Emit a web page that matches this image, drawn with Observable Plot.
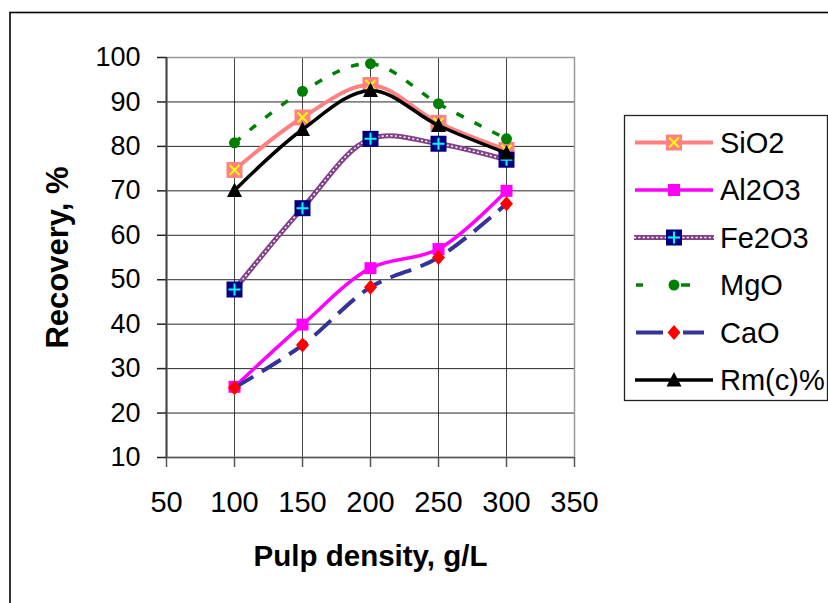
<!DOCTYPE html>
<html><head><meta charset="utf-8">
<script src="https://cdn.jsdelivr.net/npm/d3@7"></script>
<script src="https://cdn.jsdelivr.net/npm/@observablehq/plot@0.6"></script>
<style>
html,body{margin:0;padding:0;background:#fff;}
#chart{position:relative;width:828px;height:603px;overflow:hidden;background:#fff;}
#chart svg{display:block;}
</style></head><body><div id="chart"></div>
<script>
// ---- data ----
const density = [100, 150, 200, 250, 300];
const sio2  = [74.7, 86.5, 93.8, 85.3, 79.2];
const al2o3 = [25.9, 39.9, 52.6, 56.9, 70.0];
const fe2o3 = [47.8, 66.1, 81.7, 80.6, 77.0];
const mgo   = [80.8, 92.4, 98.6, 89.6, 81.7];
const cao   = [25.7, 35.3, 48.3, 55.0, 67.1];
const rmc   = [70.1, 83.8, 92.6, 84.7, 78.5];
const seriesNames = ["SiO2", "Al2O3", "Fe2O3", "MgO", "CaO", "Rm(c)%"];
const xTicks = [50, 100, 150, 200, 250, 300, 350];
const yTicks = [10, 20, 30, 40, 50, 60, 70, 80, 90, 100];
const xLabel = "Pulp density, g/L";
const yLabel = "Recovery, %";

// ---- custom marker symbols ----
const sym = {
  sq16: {draw(c){ c.rect(-8, -8, 16, 16); }},
  sq12: {draw(c){ c.rect(-6, -6, 12, 12); }},
  cross: {draw(c){ c.moveTo(-5, -5); c.lineTo(5, 5); c.moveTo(5, -5); c.lineTo(-5, 5); }},
  plus: {draw(c){ c.moveTo(-6, 0); c.lineTo(6, 0); c.moveTo(0, -6); c.lineTo(0, 6); }},
  circ: {draw(c){ c.moveTo(5.5, 0); c.arc(0, 0, 5.5, 0, 2 * Math.PI); }},
  diam: {draw(c){ c.moveTo(0, -7.5); c.lineTo(6.5, 0); c.lineTo(0, 7.5); c.lineTo(-6.5, 0); c.closePath(); }},
  tri: {draw(c){ c.moveTo(0, -8); c.lineTo(7.5, 6.5); c.lineTo(-7.5, 6.5); c.closePath(); }}
};

const values = [sio2, al2o3, fe2o3, mgo, cao, rmc];
const rows = values.map(v => density.map((x, i) => ({x, y: v[i]})));

const styles = [
  {lines: [{stroke: "#FF8080", strokeWidth: 4}],
   marks: [{symbol: sym.sq16, fill: "#FF8080"}, {symbol: sym.cross, stroke: "#FFFF00", strokeWidth: 2, fill: "none"}]},
  {lines: [{stroke: "#FF00FF", strokeWidth: 3.5}],
   marks: [{symbol: sym.sq12, fill: "#FF00FF"}]},
  {lines: [{stroke: "#83408a", strokeWidth: 5}, {stroke: "#ffffff", strokeWidth: 1.5, strokeDasharray: "2,2.4"}],
   marks: [{symbol: sym.sq16, fill: "#000080"}, {symbol: sym.plus, stroke: "#00FFFF", strokeWidth: 2, fill: "none"}]},
  {lines: [{stroke: "#008000", strokeWidth: 3.5, strokeDasharray: "8,12"}],
   marks: [{symbol: sym.circ, fill: "#008000"}]},
  {lines: [{stroke: "#333399", strokeWidth: 4, strokeDasharray: "22,10"}],
   marks: [{symbol: sym.diam, fill: "#FF0000"}]},
  {lines: [{stroke: "#000000", strokeWidth: 3.5}],
   marks: [{symbol: sym.tri, fill: "#000000"}]}
];

const seriesMarks = [];
rows.forEach((data, k) => {
  styles[k].lines.forEach(ls => seriesMarks.push(Plot.line(data, {x: "x", y: "y", curve: "catmull-rom", strokeLinecap: "butt", strokeLinejoin: "round", ...ls})));
  styles[k].marks.forEach(ms => seriesMarks.push(Plot.dot(data, {x: "x", y: "y", r: 5, ...ms})));
});

const plot = Plot.plot({
  width: 828,
  height: 603,
  marginLeft: 166,
  marginRight: 254,
  marginTop: 57,
  marginBottom: 146,
  style: {fontFamily: "'Liberation Sans', Arial, sans-serif", background: "#fff", overflow: "visible"},
  x: {domain: [50, 350]},
  y: {domain: [10, 100]},
  marks: [
    Plot.gridX(xTicks, {stroke: "#222", strokeOpacity: 0.85, strokeWidth: 1}),
    Plot.gridY(yTicks, {stroke: "#111", strokeOpacity: 0.9, strokeWidth: 1}),
    Plot.frame({stroke: "#999", strokeWidth: 1.5}),
    Plot.axisX(xTicks, {anchor: "bottom", tickSize: 10, tickPadding: 24, fontSize: 29, label: null, stroke: "#555", strokeWidth: 1.5, fill: "#000"}),
    Plot.axisY(yTicks, {anchor: "left", tickSize: 9, tickPadding: 17, fontSize: 27, label: null, stroke: "#222", strokeWidth: 1.5, fill: "#000"}),
    Plot.ruleX([50], {stroke: "#444", strokeWidth: 2}),
    Plot.ruleY([10], {stroke: "#555", strokeWidth: 1.5}),
    ...seriesMarks,
    Plot.text([xLabel], {text: d => d, frameAnchor: "bottom", dy: 108, lineAnchor: "bottom", textAnchor: "middle", fontSize: 29.5, fontWeight: "bold", fill: "#000"}),
    Plot.text([yLabel], {text: d => d, frameAnchor: "left", dx: -99, rotate: -90, lineAnchor: "bottom", textAnchor: "middle", fontSize: 31, fontWeight: "bold", fill: "#000"})
  ]
});

document.getElementById("chart").appendChild(plot);

// ---- outer chart-area border and legend ----
const svg = d3.select(plot);
svg.insert("rect", ":first-child")
  .attr("x", 10).attr("y", 12.5).attr("width", 840).attr("height", 620)
  .attr("fill", "none").attr("stroke", "#000").attr("stroke-width", 1.6);

const lg = svg.append("g").attr("font-family", "'Liberation Sans', Arial, sans-serif").attr("text-anchor", "start");
lg.append("rect").attr("x", 624.5).attr("y", 115.5).attr("width", 203).attr("height", 285)
  .attr("fill", "#fff").attr("stroke", "#222").attr("stroke-width", 1.3);
const legendLine = [
  {x1: 635, x2: 713}, {x1: 635, x2: 713}, {x1: 634, x2: 714}, {x1: 636, x2: 713}, {x1: 636, x2: 704}, {x1: 635, x2: 713}
];
seriesNames.forEach((name, k) => {
  const cy = 142.5 + k * 47.5;
  const g = lg.append("g");
  styles[k].lines.forEach(ls => {
    const l = g.append("line").attr("x1", legendLine[k].x1).attr("x2", legendLine[k].x2).attr("y1", cy).attr("y2", cy)
      .attr("stroke", ls.stroke).attr("stroke-width", ls.strokeWidth);
    const dash = k === 3 ? "7,26,10,2,9,26,10" : k === 4 ? "27,20,30" : ls.strokeDasharray;
    if (dash) l.attr("stroke-dasharray", dash);
  });
  styles[k].marks.forEach(ms => {
    const p = g.append("path").attr("d", d3.symbol(ms.symbol)()).attr("transform", `translate(674,${cy})`)
      .attr("fill", ms.fill || "none");
    if (ms.stroke) p.attr("stroke", ms.stroke).attr("stroke-width", ms.strokeWidth);
  });
  g.append("text").attr("x", 720).attr("y", cy + 10).attr("font-size", 29).attr("text-anchor", "start").attr("fill", "#000").text(name);
});
</script>
</body></html>
